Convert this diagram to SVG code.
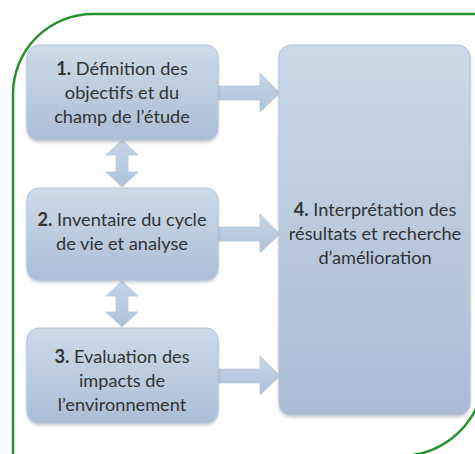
<svg xmlns="http://www.w3.org/2000/svg" width="475" height="454" viewBox="0 0 475 454">
<defs>
<linearGradient id="gb" x1="0" y1="0" x2="0" y2="1">
<stop offset="0" stop-color="#cddbe9"/>
<stop offset="1" stop-color="#aabed6"/>
</linearGradient>
<linearGradient id="gb4" x1="0" y1="0" x2="0" y2="1">
<stop offset="0" stop-color="#cbd9e8"/>
<stop offset="1" stop-color="#a9bcd4"/>
</linearGradient>
<linearGradient id="ga" x1="0" y1="0" x2="0" y2="1">
<stop offset="0" stop-color="#c6d6e8"/>
<stop offset="1" stop-color="#adc2da"/>
</linearGradient>
<filter id="sh" x="-10%" y="-10%" width="120%" height="120%">
<feDropShadow dx="0" dy="2" stdDeviation="1.5" flood-color="#7a8898" flood-opacity="0.45"/>
</filter>
</defs>
<style>
.box{stroke:#b4c5da;stroke-width:1;filter:url(#sh)}
.arr{fill:url(#ga);stroke:#b5c7dc;stroke-width:0.8}
.t{font-family:Lato,"Liberation Sans",sans-serif;font-size:18.2px;fill:#333333;text-anchor:middle}
.b{font-weight:bold}
.frame{fill:none;stroke:#27912f;stroke-width:2.5}
</style>
<g id="frame">
<path class="frame" d="M13,456 L13,94 A80,80 0 0 1 93,14 L477,14"/>
<path class="frame" d="M476,409 A85,85 0 0 1 413,455"/>
</g>
<g id="connectors">
<path class="arr" d="M218,86 L260,86 L260,73 L280,93 L260,112 L260,100 L218,100 Z"/>
<path class="arr" d="M218,227 L260,227 L260,214 L280,234 L260,253 L260,241 L218,241 Z"/>
<path class="arr" d="M218,369 L260,369 L260,356 L280,376 L260,395 L260,383 L218,383 Z"/>
<path class="arr" d="M122,140 L138,155 L128,155 L128,172 L138,172 L122,187 L106,172 L116,172 L116,155 L106,155 Z"/>
<path class="arr" d="M122,281 L138,296 L128,296 L128,312 L138,312 L122,327 L106,312 L116,312 L116,296 L106,296 Z"/>
</g>
<g id="node1">
<rect class="box" x="27" y="45" width="191" height="95" rx="12" fill="url(#gb)"/>
<text class="t" x="122" y="75"><tspan class="b">1.</tspan> Définition des</text>
<text class="t" x="122" y="99">objectifs et du</text>
<text class="t" x="122" y="123">champ de l’étude</text>
</g>
<g id="node2">
<rect class="box" x="27" y="188" width="191" height="92" rx="12" fill="url(#gb)"/>
<text class="t" x="122" y="226"><tspan class="b">2.</tspan> Inventaire du cycle</text>
<text class="t" x="122" y="250">de vie et analyse</text>
</g>
<g id="node3">
<rect class="box" x="27" y="328" width="191" height="95" rx="12" fill="url(#gb)"/>
<text class="t" x="122" y="363"><tspan class="b">3.</tspan> Evaluation des</text>
<text class="t" x="122" y="387">impacts de</text>
<text class="t" x="122" y="411">l’environnement</text>
</g>
<g id="node4">
<rect class="box" x="279" y="45" width="191" height="370" rx="12" fill="url(#gb4)"/>
<text class="t" x="375" y="216"><tspan class="b">4.</tspan> Interprétation des</text>
<text class="t" x="375" y="240">résultats et recherche</text>
<text class="t" x="375" y="264">d’amélioration</text>
</g>
</svg>
